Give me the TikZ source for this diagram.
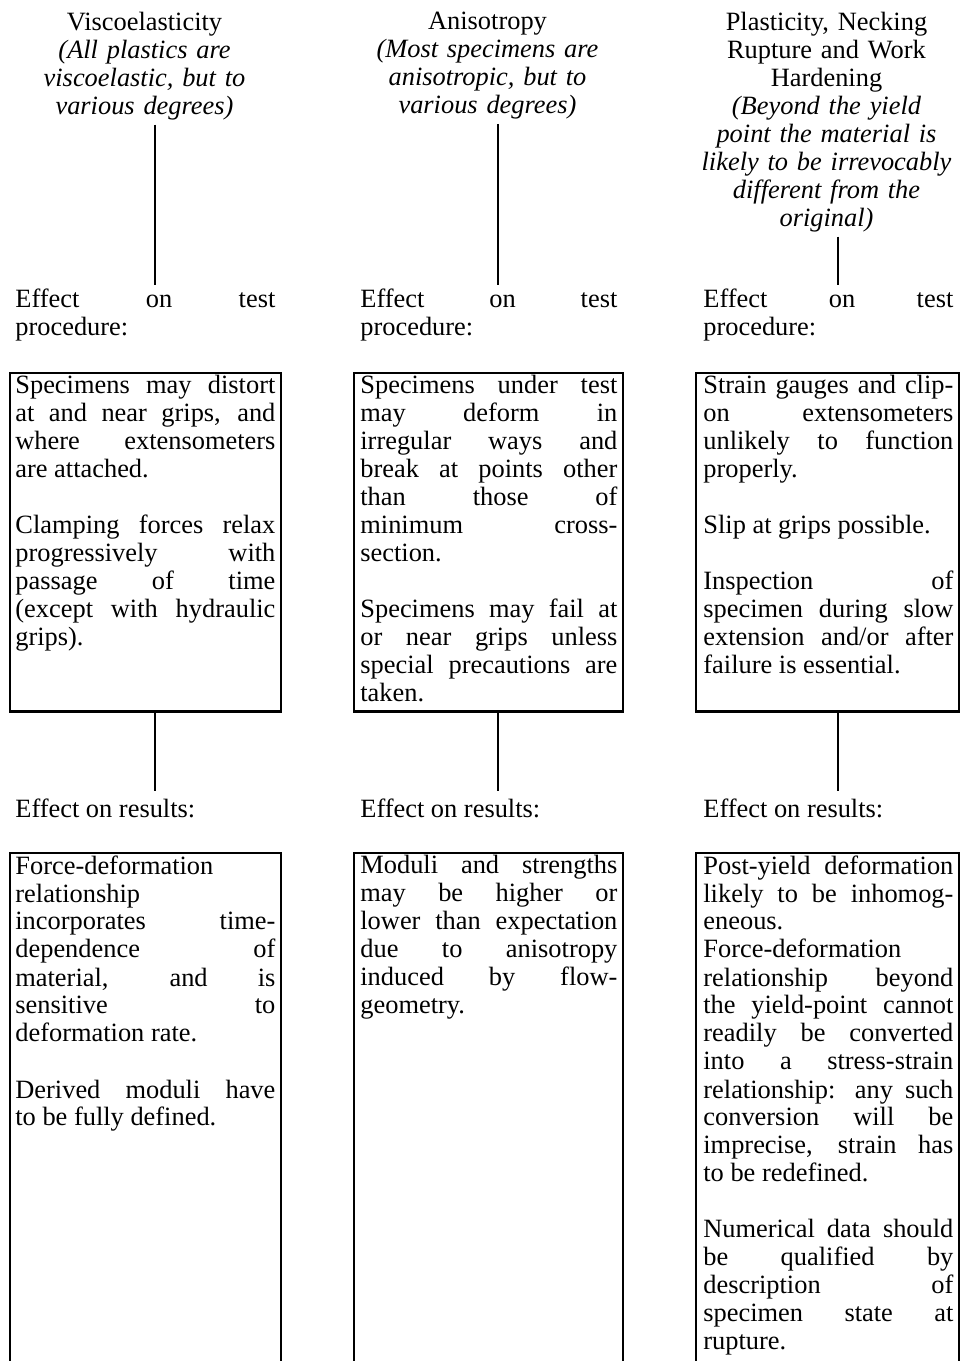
\documentclass[tikz,border=0pt]{standalone}
\usepackage{fontspec}
\setmainfont{Liberation Serif}
\usetikzlibrary{positioning}
\newcommand\effectfont{\fontsize{13.2}{14}\selectfont\parindent=0pt\tolerance=10000\hbadness=10000}
\newcommand\gapline{\par\vspace{14pt}}
\tikzset{
  effectbox/.style={draw, line width=0.9pt, inner sep=0pt, anchor=north west},
  boxfloor/.style={line width=1.4pt},
  boxtext/.style={anchor=north west, inner sep=0pt, align=justify, font=\effectfont},
  titletext/.style={anchor=north, inner sep=1pt, text width=140pt, align=center, font=\effectfont},
  labeltext/.style={anchor=north west, inner sep=0pt, align=justify, font=\effectfont},
  link/.style={line width=0.9pt}
}
\begin{document}
\begin{tikzpicture}[x=0.5pt, y=-0.5pt]
    \useasboundingbox (0,0) rectangle (961,1361);
    \clip (0,0) rectangle (961,1361);
    % axes of the connectors
    \coordinate (vaxis) at (155,0);
    \coordinate (aaxis) at (498,0);
    \coordinate (paxis) at (838,0);
    % Viscoelasticity
    \node[titletext] (vtitle) at (144.5,10) {Viscoelasticity\\ {\itshape (All plastics are\\ viscoelastic, but to\\ various degrees)}};
    \node[labeltext, text width=130pt] (vproc) at (15,289) {Effect on test\linebreak procedure:};
    \node[effectbox, minimum width=135.5pt, minimum height=169pt] (vtop) at (9,372) {};
    \node[boxtext, text width=130pt] (vtoptext) at ([xshift=3pt, yshift=-1.5pt]vtop.north west) {Specimens may distort\linebreak at and near grips, and\linebreak where extensometers\linebreak are attached.\gapline Clamping forces relax\linebreak progressively with\linebreak passage of time\linebreak (except with hydraulic\linebreak grips).};
    \node[labeltext] (vres) at (15,799) {Effect on results:};
    \node[effectbox, minimum width=135.5pt, minimum height=259pt] (vbot) at (9,852) {};
    \node[boxtext, text width=130pt] (vbottext) at ([xshift=3pt, yshift=-1.5pt]vbot.north west) {Force-deformation\newline relationship\newline incorporates time-\linebreak dependence of\linebreak material, and is\linebreak sensitive to\linebreak deformation rate.\gapline Derived moduli have\linebreak to be fully defined.};
    % Anisotropy
    \node[titletext] (atitle) at (487.5,10) {Anisotropy\\ {\itshape (Most specimens are\\ anisotropic, but to\\ various degrees)}};
    \node[labeltext, text width=128.5pt] (aproc) at (360,289) {Effect on test\linebreak procedure:};
    \node[effectbox, minimum width=134.5pt, minimum height=169pt] (atop) at (353,372) {};
    \node[boxtext, text width=128.5pt] (atoptext) at ([xshift=3.5pt, yshift=-1.5pt]atop.north west) {Specimens under test\linebreak may deform in\linebreak irregular ways and\linebreak break at points other\linebreak than those of\linebreak minimum cross-\linebreak section.\gapline Specimens may fail at\linebreak or near grips unless\linebreak special precautions are\linebreak taken.};
    \node[labeltext] (ares) at (360,799) {Effect on results:};
    \node[effectbox, minimum width=134.5pt, minimum height=259pt] (abot) at (353,852) {};
    \node[boxtext, text width=128.5pt] (abottext) at ([xshift=3.5pt, yshift=-1.5pt]abot.north west) {Moduli and strengths\linebreak may be higher or\linebreak lower than expectation\linebreak due to anisotropy\linebreak induced by flow-\linebreak geometry.};
    % Plasticity
    \node[titletext] (ptitle) at (826.5,10) {Plasticity, Necking\\ Rupture and Work\\ Hardening\\ {\itshape (Beyond the yield\\ point the material is\\ likely to be irrevocably\\ different from the\\ original)}};
    \node[labeltext, text width=125pt] (pproc) at (703,289) {Effect on test\linebreak procedure:};
    \node[effectbox, minimum width=131.5pt, minimum height=169pt] (ptop) at (695,372) {};
    \node[boxtext, text width=125pt] (ptoptext) at ([xshift=4pt, yshift=-1.5pt]ptop.north west) {Strain gauges and clip-\linebreak on extensometers\linebreak unlikely to function\linebreak properly.\gapline Slip at grips possible.\gapline Inspection of\linebreak specimen during slow\linebreak extension and/or after\linebreak failure is essential.};
    \node[labeltext] (pres) at (703,799) {Effect on results:};
    \node[effectbox, minimum width=131.5pt, minimum height=259pt] (pbot) at (695,852) {};
    \node[boxtext, text width=125pt] (pbottext) at ([xshift=4pt, yshift=-1.5pt]pbot.north west) {Post-yield deformation\linebreak likely to be inhomog-\linebreak eneous.\newline Force-deformation\newline relationship beyond\linebreak the yield-point cannot\linebreak readily be converted\linebreak into a stress-strain\linebreak relationship: any such\linebreak conversion will be\linebreak imprecise, strain has\linebreak to be redefined.\gapline Numerical data should\linebreak be qualified by\linebreak description of\linebreak specimen state at\linebreak rupture.};
    % heavier lower edges
    \draw[boxfloor] (vtop.south west) -- (vtop.south east);
    \draw[boxfloor] (atop.south west) -- (atop.south east);
    \draw[boxfloor] (ptop.south west) -- (ptop.south east);
    % connectors
    \draw[link, shorten <=1pt, shorten >=2pt] (vtitle.south -| vaxis) -- (vproc.north -| vaxis);
    \draw[link, shorten <=1pt, shorten >=2pt] (atitle.south -| aaxis) -- (aproc.north -| aaxis);
    \draw[link, shorten <=1pt, shorten >=2pt] (ptitle.south -| paxis) -- (pproc.north -| paxis);
    \draw[link, shorten >=4pt] (vtop.south -| vaxis) -- (vres.north -| vaxis);
    \draw[link, shorten >=4pt] (atop.south -| aaxis) -- (ares.north -| aaxis);
    \draw[link, shorten >=4pt] (ptop.south -| paxis) -- (pres.north -| paxis);
\end{tikzpicture}
\end{document}
